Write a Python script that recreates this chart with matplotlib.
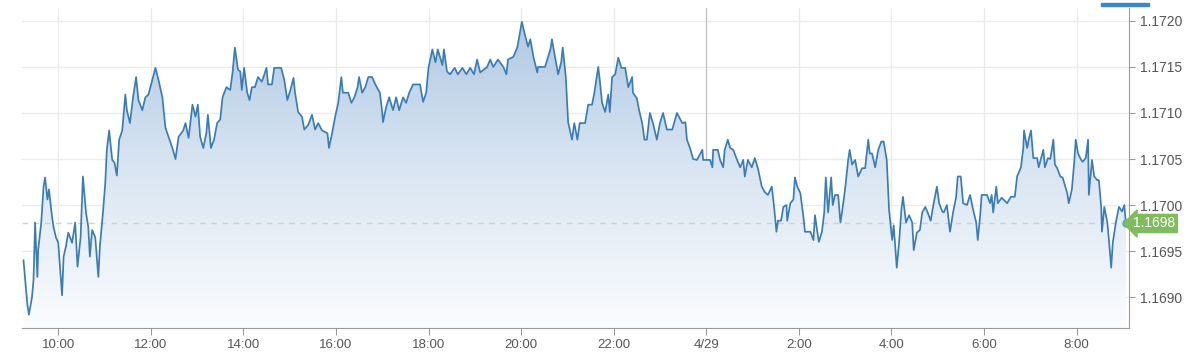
import numpy as np
import matplotlib
matplotlib.use("Agg")
import matplotlib.pyplot as plt
from matplotlib.colors import LinearSegmentedColormap
from matplotlib.patches import Rectangle

# minutes after midnight on 4/28 (values past 1440 are on 4/29)
minutes = [555, 560, 562, 566, 568, 570, 573, 574, 578, 581, 583, 586, 588, 592, 594, 597, 600,
           605, 607, 610, 613, 618, 622, 625, 629, 632, 636, 639, 641, 644, 648, 652, 654, 658,
           661, 663, 666, 670, 673, 676, 679, 683, 687, 689, 693, 697, 701, 704, 709, 713, 717,
           722, 726, 730, 735, 739, 743, 748, 752, 756, 762, 765, 769, 774, 778, 781, 784, 788,
           792, 794, 798, 802, 806, 810, 813, 818, 823, 826, 829, 833, 836, 838, 841, 845, 848,
           851, 855, 859, 864, 870, 872, 877, 880, 889, 893, 897, 901, 905, 907, 911, 916, 919,
           924, 929, 933, 937, 942, 949, 951, 955, 959, 963, 967, 969, 976, 980, 984, 988, 990,
           994, 998, 1002, 1007, 1011, 1017, 1020, 1021, 1025, 1029, 1034, 1038, 1042, 1047,
           1051, 1055, 1060, 1069, 1073, 1077, 1080, 1085, 1089, 1092, 1098, 1100, 1104, 1108,
           1114, 1118, 1124, 1129, 1134, 1139, 1143, 1147, 1156, 1160, 1164, 1170, 1177, 1181,
           1183, 1190, 1195, 1197, 1201, 1205, 1209, 1212, 1216, 1221, 1222, 1231, 1234, 1238,
           1240, 1244, 1248, 1252, 1254, 1258, 1261, 1266, 1269, 1273, 1276, 1283, 1287, 1292,
           1295, 1300, 1302, 1305, 1309, 1313, 1315, 1318, 1322, 1326, 1330, 1335, 1339, 1344,
           1345, 1350, 1353, 1357, 1360, 1363, 1367, 1371, 1376, 1380, 1384, 1389, 1396, 1402,
           1409, 1413, 1415, 1419, 1423, 1428, 1435, 1436, 1445, 1448, 1449, 1455, 1458, 1462,
           1464, 1468, 1471, 1475, 1480, 1484, 1488, 1490, 1494, 1499, 1503, 1507, 1512, 1516,
           1520, 1525, 1528, 1531, 1533, 1537, 1540, 1544, 1545, 1549, 1553, 1555, 1558, 1562,
           1566, 1568, 1575, 1579, 1581, 1584, 1586, 1590, 1593, 1595, 1598, 1602, 1604, 1607,
           1611, 1614, 1616, 1620, 1624, 1626, 1629, 1633, 1637, 1642, 1646, 1650, 1652, 1655,
           1659, 1663, 1667, 1670, 1674, 1677, 1681, 1683, 1687, 1690, 1693, 1695, 1699, 1703,
           1707, 1709, 1713, 1717, 1720, 1724, 1727, 1731, 1734, 1739, 1742, 1746, 1748, 1752,
           1756, 1760, 1764, 1766, 1770, 1773, 1778, 1782, 1786, 1790, 1792, 1795, 1797, 1804,
           1808, 1810, 1812, 1816, 1818, 1823, 1830, 1835, 1840, 1843, 1848, 1851, 1852, 1856,
           1858, 1861, 1864, 1869, 1871, 1877, 1879, 1883, 1886, 1890, 1892, 1895, 1899, 1902,
           1908, 1910, 1914, 1917, 1919, 1922, 1926, 1928, 1932, 1935, 1936, 1940, 1943, 1947,
           1949, 1952, 1953, 1956, 1960, 1962, 1965, 1967, 1971, 1975, 1979, 1982, 1984]

prices = [1.16940, 1.16892, 1.16881, 1.16900, 1.16919, 1.16981, 1.16922, 1.16951, 1.16981,
          1.17020, 1.17030, 1.17006, 1.17017, 1.16987, 1.16976, 1.16965, 1.16959, 1.16902,
          1.16944, 1.16955, 1.16970, 1.16959, 1.16981, 1.16933, 1.16965, 1.17031, 1.16992,
          1.16976, 1.16944, 1.16973, 1.16965, 1.16922, 1.16955, 1.16992, 1.17024, 1.17060,
          1.17081, 1.17049, 1.17046, 1.17032, 1.17071, 1.17081, 1.17120, 1.17103, 1.17089,
          1.17117, 1.17139, 1.17114, 1.17103, 1.17117, 1.17120, 1.17136, 1.17149, 1.17136,
          1.17117, 1.17084, 1.17074, 1.17062, 1.17050, 1.17074, 1.17081, 1.17089, 1.17073,
          1.17109, 1.17096, 1.17109, 1.17074, 1.17062, 1.17078, 1.17098, 1.17062, 1.17071,
          1.17089, 1.17093, 1.17117, 1.17128, 1.17125, 1.17144, 1.17171, 1.17147, 1.17145,
          1.17125, 1.17149, 1.17122, 1.17114, 1.17128, 1.17128, 1.17139, 1.17134, 1.17149,
          1.17131, 1.17131, 1.17149, 1.17149, 1.17136, 1.17114, 1.17125, 1.17138, 1.17122,
          1.17101, 1.17096, 1.17082, 1.17087, 1.17098, 1.17082, 1.17089, 1.17081, 1.17078,
          1.17062, 1.17078, 1.17096, 1.17111, 1.17139, 1.17122, 1.17122, 1.17111, 1.17117,
          1.17128, 1.17139, 1.17122, 1.17128, 1.17139, 1.17139, 1.17131, 1.17122, 1.17101,
          1.17090, 1.17106, 1.17117, 1.17103, 1.17117, 1.17103, 1.17117, 1.17111, 1.17122,
          1.17131, 1.17131, 1.17112, 1.17122, 1.17149, 1.17169, 1.17155, 1.17169, 1.17152,
          1.17169, 1.17145, 1.17142, 1.17149, 1.17142, 1.17149, 1.17142, 1.17149, 1.17142,
          1.17158, 1.17144, 1.17150, 1.17158, 1.17150, 1.17158, 1.17150, 1.17142, 1.17158,
          1.17161, 1.17171, 1.17180, 1.17199, 1.17185, 1.17172, 1.17180, 1.17161, 1.17144,
          1.17150, 1.17150, 1.17158, 1.17169, 1.17180, 1.17161, 1.17142, 1.17155, 1.17171,
          1.17139, 1.17090, 1.17071, 1.17089, 1.17071, 1.17089, 1.17089, 1.17109, 1.17109,
          1.17122, 1.17150, 1.17136, 1.17111, 1.17101, 1.17120, 1.17101, 1.17139, 1.17142,
          1.17160, 1.17149, 1.17149, 1.17128, 1.17139, 1.17122, 1.17116, 1.17103, 1.17089,
          1.17071, 1.17071, 1.17100, 1.17089, 1.17071, 1.17089, 1.17100, 1.17082, 1.17082,
          1.17100, 1.17089, 1.17090, 1.17071, 1.17062, 1.17050, 1.17049, 1.17060, 1.17049,
          1.17049, 1.17041, 1.17060, 1.17060, 1.17049, 1.17041, 1.17060, 1.17071, 1.17062,
          1.17060, 1.17049, 1.17041, 1.17049, 1.17031, 1.17049, 1.17041, 1.17051, 1.17040,
          1.17020, 1.17014, 1.17011, 1.17020, 1.16998, 1.16971, 1.16983, 1.16983, 1.16998,
          1.17000, 1.16983, 1.17002, 1.17006, 1.17030, 1.17020, 1.17013, 1.16987, 1.16971,
          1.16971, 1.16962, 1.16989, 1.16971, 1.16960, 1.16971, 1.16992, 1.17030, 1.16992,
          1.17030, 1.17000, 1.17011, 1.17011, 1.16981, 1.16992, 1.17017, 1.17049, 1.17060,
          1.17044, 1.17049, 1.17031, 1.17040, 1.17040, 1.17071, 1.17056, 1.17056, 1.17041,
          1.17060, 1.17069, 1.17069, 1.17049, 1.16995, 1.16962, 1.16978, 1.16932, 1.16959,
          1.16995, 1.17009, 1.16981, 1.16989, 1.16981, 1.16951, 1.16970, 1.16973, 1.16992,
          1.16998, 1.16992, 1.16983, 1.16998, 1.17020, 1.17002, 1.16993, 1.16992, 1.17000,
          1.16971, 1.16992, 1.17009, 1.17031, 1.17031, 1.17002, 1.17000, 1.17011, 1.16995,
          1.16981, 1.16962, 1.16987, 1.17011, 1.17011, 1.17002, 1.17011, 1.16992, 1.17020,
          1.17002, 1.17008, 1.17002, 1.17009, 1.17009, 1.17031, 1.17041, 1.17062, 1.17081,
          1.17062, 1.17071, 1.17081, 1.17051, 1.17051, 1.17041, 1.17060, 1.17041, 1.17051,
          1.17050, 1.17071, 1.17044, 1.17040, 1.17031, 1.17030, 1.17013, 1.17002, 1.17017,
          1.17046, 1.17071, 1.17056, 1.17049, 1.17047, 1.17051, 1.17071, 1.17011, 1.17049,
          1.17031, 1.17027, 1.17027, 1.16998, 1.16971, 1.16998, 1.16981, 1.16962, 1.16932,
          1.16959, 1.16981, 1.16998, 1.16993, 1.17000, 1.16980]

tick_minutes = [600, 720, 840, 960, 1080, 1200, 1320, 1440, 1560, 1680, 1800, 1920]
tick_labels = ["10:00", "12:00", "14:00", "16:00", "18:00", "20:00", "22:00",
               "4/29", "2:00", "4:00", "6:00", "8:00"]
y_ticks = [1.1690, 1.1695, 1.1700, 1.1705, 1.1710, 1.1715, 1.1720]
last_price = 1.1698

plt.rcParams['font.family'] = ['Liberation Sans', 'DejaVu Sans']

fig = plt.figure(figsize=(12, 3.58), dpi=100)
ax = fig.add_axes([0.0183, 0.0838, 0.9225, 0.8939])

x0, x1 = 553, 1988
y0, y1 = 1.168665, 1.17214
ax.set_xlim(x0, x1)
ax.set_ylim(y0, y1)

# grid
for v in y_ticks:
    ax.axhline(v, color='#ebebeb', lw=1, zorder=0)
for m in tick_minutes:
    c = '#c4c4c4' if m == 1440 else '#ebebeb'
    ax.axvline(m, color=c, lw=1, zorder=0)

# gradient area
cmap = LinearSegmentedColormap.from_list('fade', ['#fbfcfe', '#d9e5f2', '#abc6e2'])
poly = ax.fill_between(minutes, prices, y0, color='none', lw=0)
grad = np.linspace(0, 1, 256).reshape(-1, 1)
img = ax.imshow(grad, extent=[x0, x1, y0, y1], aspect='auto', cmap=cmap,
                origin='lower', zorder=1)
img.set_clip_path(poly.get_paths()[0], transform=ax.transData)

ax.axhline(last_price, color='#d0d0d0', lw=1, ls=(0, (4, 4)), zorder=2)
ax.plot(minutes, prices, color='#3b7db3', lw=1.25, zorder=3)

# axes styling
for s in ['left', 'top']:
    ax.spines[s].set_visible(False)
ax.spines['bottom'].set_color('#9a9a9a')
ax.spines['right'].set_color('#9a9a9a')
ax.yaxis.tick_right()
ax.set_yticks(y_ticks)
ax.set_yticklabels(["%.4f" % v for v in y_ticks])
ax.set_xticks(tick_minutes)
ax.set_xticklabels(tick_labels)
ax.tick_params(axis='x', colors='#9a9a9a', labelcolor='#555555', labelsize=9.5,
               length=5, pad=3)
ax.tick_params(axis='y', colors='#9a9a9a', labelcolor='#555555', labelsize=10,
               length=4, pad=4)

# last price marker and label
ax.plot(minutes[-1], prices[-1], 'o', color='#3f9fd8', ms=5, zorder=5, clip_on=False)
ax.annotate("%.4f" % last_price, xy=(1.0, last_price), xycoords=('axes fraction', 'data'),
            xytext=(3, 0), textcoords='offset points', va='center', ha='left',
            color='white', fontsize=10,
            bbox=dict(boxstyle='larrow,pad=0.15', fc='#80bb5e', ec='#80bb5e'), zorder=6)

# small blue bar at top right
fig.add_artist(Rectangle((1101 / 1200, 1 - 6 / 358), 48 / 1200, 3 / 358,
                         transform=fig.transFigure, color='#3d86cc'))

fig.savefig('out.png', dpi=100)
